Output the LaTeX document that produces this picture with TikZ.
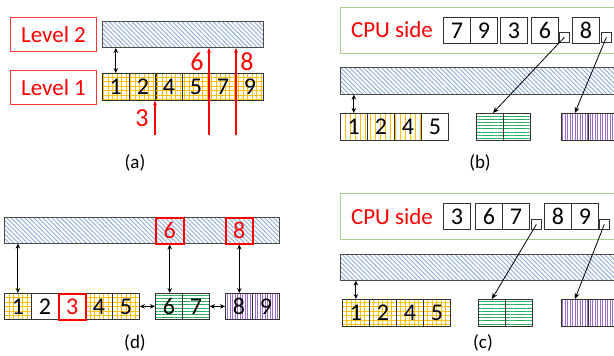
\documentclass[tikz,border=0pt]{standalone}
\usepackage{fontspec}
\setmainfont{Carlito}
\usetikzlibrary{patterns.meta,arrows.meta}
\definecolor{hblue}{HTML}{8FAADC}
\definecolor{horange}{HTML}{FFC000}
\definecolor{hgreen}{HTML}{22B060}
\definecolor{hpurple}{HTML}{9B6BC8}
\definecolor{lred}{HTML}{FF0000}
\definecolor{lgreen}{HTML}{A9D18E}
\tikzset{
  cellbox/.style={draw=black!80, line width=0.8pt, minimum width=27pt, minimum height=27pt, inner sep=0pt, anchor=north west, font=\fontsize{24}{24}\selectfont},
  redcell/.style={cellbox, draw=lred, text=lred, line width=1.5pt},
  gridfill/.style={pattern={Hatch[angle=0,distance=4.5pt,line width=0.6pt]}, pattern color=horange},
  ostripe/.style={pattern={Lines[angle=90,distance=5pt,line width=0.6pt]}, pattern color=horange},
  gstripe/.style={pattern={Lines[angle=0,distance=3.2pt,line width=0.8pt]}, pattern color=hgreen},
  pstripe/.style={pattern={Lines[angle=90,distance=2.5pt,line width=0.6pt]}, pattern color=hpurple},
  bluebar/.style={draw=black!70, line width=0.6pt, pattern={Lines[angle=-45,distance=3.2pt,line width=0.9pt]}, pattern color=hblue, inner sep=0pt, anchor=north west, minimum height=26pt},
  levelbox/.style={draw=lred!80, line width=1pt, text=lred, minimum width=86pt, minimum height=34pt, inner sep=0pt, anchor=north west, font=\fontsize{23}{23}\selectfont},
  cpubox/.style={draw=lgreen, line width=1pt, minimum width=320pt, minimum height=46pt, anchor=north west, inner sep=0pt},
  cputext/.style={text=lred, font=\fontsize{23}{23}\selectfont, inner sep=0pt},
  sqbox/.style={draw=black!80, fill=white, line width=0.7pt, minimum size=10pt, inner sep=0pt, anchor=north west},
  dbl/.style={{Stealth[length=5pt,width=4.5pt]}-{Stealth[length=5pt,width=4.5pt]}, line width=0.9pt},
  ptr/.style={-{Stealth[length=6pt,width=5pt]}, line width=0.8pt},
  redarr/.style={-{Stealth[length=5pt,width=4pt]}, draw=lred, line width=1.1pt},
  redlab/.style={text=lred, font=\fontsize{26}{26}\selectfont, inner sep=0pt},
  caplab/.style={font=\fontsize{19}{19}\selectfont, inner sep=0pt},
}
\begin{document}
\begin{tikzpicture}[x=1pt,y=-1pt]
\useasboundingbox (0,0) rectangle (614,356);
\clip (0,0) rectangle (614,356);
% ---------- (a) ----------
\node[levelbox] (lv2) at (10,17) {Level 2};
\node[levelbox] (lv1) at (10,70) {Level 1};
\node[bluebar, minimum width=161pt] (bara) at (102,21) {};
\node[cellbox, gridfill] (a1) at (102,73) {1};
\node[cellbox, gridfill] (a2) at (129,73) {2};
\node[cellbox, gridfill] (a4) at (155,73) {4};
\node[cellbox, gridfill] (a5) at (182,73) {5};
\node[cellbox, gridfill] (a7) at (209,73) {7};
\node[cellbox, gridfill] (a9) at (236,73) {9};
\draw[dbl] (a1.north |- bara.south) -- (a1.north);
\coordinate (s3) at (155,135);
\coordinate (s6) at (209,135);
\coordinate (s8) at (236,135);
\draw[redarr] (s3) -- (s3 |- a1.south);
\draw[redarr] (s6) -- (s6 |- bara.south);
\draw[redarr] (s8) -- (s8 |- bara.south);
\node[redlab] (l3) at (142,118) {3};
\node[redlab] (l6) at (197,62) {6};
\node[redlab] (l8) at (247,62) {8};
\node[caplab] (capa) at (135,163) {(a)};
% ---------- (b) ----------
\node[cpubox] (cpub) at (340,7) {};
\node[cputext] (cputb) at (392,30) {CPU side};
\node[cellbox, minimum height=26pt] (b7) at (443,17) {7};
\node[cellbox, minimum height=26pt] (b9) at (470,17) {9};
\node[cellbox, minimum height=26pt] (b3) at (500,17) {3};
\node[cellbox, minimum height=26pt] (b6) at (531,17) {6};
\node[sqbox] (sqb1) at (559,32) {};
\node[cellbox, minimum height=26pt] (b8) at (572,17) {8};
\node[sqbox] (sqb2) at (601,32) {};
\node[bluebar, minimum width=320pt, minimum height=27pt] (barb) at (340,67) {};
\node[cellbox, ostripe] (bc1) at (340,113) {1};
\node[cellbox, ostripe] (bc2) at (367,113) {2};
\node[cellbox, ostripe] (bc4) at (394,113) {4};
\node[cellbox] (bc5) at (421,113) {5};
\node[cellbox, gstripe] (bg1) at (476,113) {};
\node[cellbox, gstripe] (bg2) at (503,113) {};
\node[cellbox, pstripe] (bp1) at (561,113) {};
\node[cellbox, pstripe] (bp2) at (588,113) {};
\draw[dbl] (bc1.north |- barb.south) -- (bc1.north);
\draw[ptr] (sqb1.center) -- ([xshift=3pt]bg1.north);
\draw[ptr] (sqb2.center) -- (bp1.north);
\node[caplab] (capb) at (480,163) {(b)};
% ---------- (d) ----------
\node[bluebar, minimum width=275pt] (bard) at (4,217) {};
\node[redcell, minimum width=28pt, minimum height=26pt] (r6) at (155,217) {6};
\node[redcell, minimum width=27pt, minimum height=26pt] (r8) at (225,217) {8};
\node[cellbox, gridfill, minimum height=26pt] (d1) at (4,293) {1};
\node[cellbox, minimum height=26pt] (d2) at (31,293) {2};
\node[cellbox, gridfill, minimum height=26pt] (d4) at (85,293) {4};
\node[cellbox, gridfill, minimum height=26pt] (d5) at (112,293) {5};
\node[redcell, minimum height=26pt] (d3) at (58,293) {3};
\node[cellbox, gstripe, minimum height=26pt] (d6) at (155,293) {6};
\node[cellbox, gstripe, minimum height=26pt] (d7) at (182,293) {7};
\node[cellbox, pstripe, minimum height=26pt] (d8) at (225,293) {8};
\node[cellbox, pstripe, minimum height=26pt] (d9) at (252,293) {9};
\draw[dbl] (d1.north |- bard.south) -- (d1.north);
\draw[dbl] (r6.south) -- (r6.south |- d6.north);
\draw[dbl] (r8.south) -- (r8.south |- d8.north);
\draw[dbl] (d5.east) -- (d6.west);
\draw[dbl] (d7.east) -- (d8.west);
\node[caplab] (capd) at (135,343) {(d)};
% ---------- (c) ----------
\node[cpubox] (cpuc) at (340,193) {};
\node[cputext] (cputc) at (392,217) {CPU side};
\node[cellbox, minimum height=26pt] (c3) at (443,203) {3};
\node[cellbox, minimum height=26pt] (c6) at (475,203) {6};
\node[cellbox, minimum height=26pt] (c7) at (502,203) {7};
\node[sqbox] (sqc1) at (531,219) {};
\node[cellbox, minimum height=26pt] (c8) at (544,203) {8};
\node[cellbox, minimum height=26pt] (c9) at (571,203) {9};
\node[sqbox] (sqc2) at (599,219) {};
\node[bluebar, minimum width=320pt] (barc) at (340,254) {};
\node[cellbox, gridfill] (cc1) at (342,299) {1};
\node[cellbox, gridfill] (cc2) at (369,299) {2};
\node[cellbox, gridfill] (cc4) at (396,299) {4};
\node[cellbox, gridfill] (cc5) at (423,299) {5};
\node[cellbox, gstripe] (cg1) at (478,299) {};
\node[cellbox, gstripe] (cg2) at (505,299) {};
\node[cellbox, pstripe] (cp1) at (561,299) {};
\node[cellbox, pstripe] (cp2) at (588,299) {};
\draw[dbl] (cc1.north |- barc.south) -- (cc1.north);
\draw[ptr] (sqc1.center) -- (cg1.north);
\draw[ptr] (sqc2.center) -- (cp1.north);
\node[caplab] (capc) at (483,343) {(c)};
\end{tikzpicture}
\end{document}
